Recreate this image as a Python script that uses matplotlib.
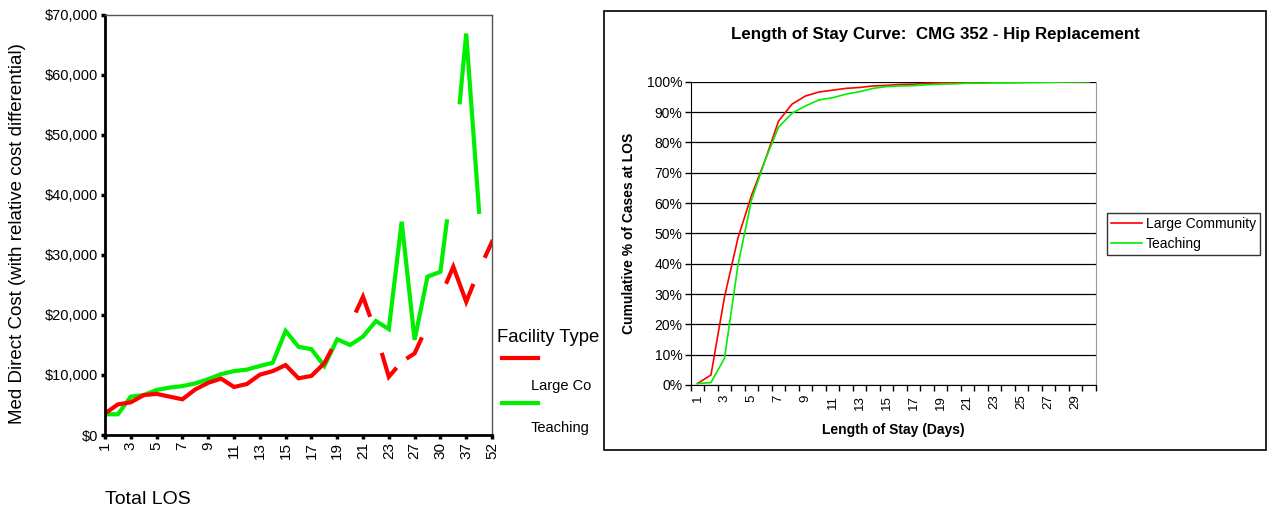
import matplotlib
matplotlib.use("Agg")
import matplotlib.pyplot as plt
import numpy as np
from matplotlib.lines import Line2D
from matplotlib.patches import Rectangle
from matplotlib.ticker import FuncFormatter, MultipleLocator

plt.rcParams['font.family'] = ['Liberation Sans', 'DejaVu Sans']

# ---- left chart: median direct cost by total LOS ----
los_cats = ['1', '2', '3', '4', '5', '6', '7', '8', '9', '10', '11', '12', '13', '14', '15',
            '16', '17', '18', '19', '20', '21', '22', '23', '25', '27', '28', '30', '33', '37',
            '44', '52']
large_cost = [3600, 5100, 5450, 6650, 6850, 6400, 5950, 7600, 8700, 9400, 8000, 8500, 10050,
              10650, 11650, 9450, 9850, 11950, 16000, 18400, 23050, 17000, 9700, 12200, 13600,
              18300, 23000, 28050, 22200, 27500, 32200]
large_shown = [True] * 18 + [False, False, True, False, True, False, True, False, False,
                             True, True, False, True]
teach_cost = [3450, 3450, 6400, 6650, 7500, 7900, 8150, 8600, 9300, 10150, 10650, 10900, 11500,
              12050, 17350, 14700, 14300, 11500, 15950, 15000, 16400, 19000, 17650, 35550, 15850,
              26400, 27200, 44000, 66900, 37200, np.nan]
teach_shown = [True] * 27 + [False, True, True, False]

# ---- right chart: cumulative % of cases by LOS (days) ----
days = list(range(1, 31))
large_cum = [0.5, 3.3, 29.0, 48.5, 62.5, 74.0, 87.0, 92.6, 95.3, 96.6, 97.2, 97.8, 98.1, 98.6,
             98.8, 99.1, 99.2, 99.5, 99.6, 99.7, 99.7, 99.8, 99.8, 99.8, 99.8, 99.9, 99.9,
             99.9, 100.0, 100.0]
teach_cum = [0.5, 0.8, 8.8, 39.5, 61.0, 74.0, 85.0, 89.6, 92.0, 94.0, 94.7, 95.9, 96.7, 97.8,
             98.4, 98.6, 98.7, 99.0, 99.2, 99.3, 99.5, 99.5, 99.6, 99.6, 99.7, 99.7, 99.8,
             99.9, 99.9, 100.0]


def gapped(vals, shown):
    # SPSS style: hidden categories keep half segments from visible neighbours
    xs, ys = [], []
    for i, v in enumerate(vals):
        if not shown[i]:
            xs.append(np.nan)
            ys.append(np.nan)
            continue
        if i > 0 and not shown[i - 1] and not np.isnan(vals[i - 1]):
            xs.append(i - 0.5)
            ys.append((v + vals[i - 1]) / 2)
        xs.append(i)
        ys.append(v)
        if i < len(vals) - 1 and not shown[i + 1] and not np.isnan(vals[i + 1]):
            xs.append(i + 0.5)
            ys.append((v + vals[i + 1]) / 2)
    return xs, ys


W, H = 1268, 512
fig = plt.figure(figsize=(W / 100, H / 100), dpi=100)

# left
ax1 = fig.add_axes([105 / W, 77 / H, 387 / W, 420 / H])
xs, ys = gapped(teach_cost, teach_shown)
ax1.plot(xs, ys, color='#00ee00', lw=3.0, solid_joinstyle='miter')
xs, ys = gapped(large_cost, large_shown)
ax1.plot(xs, ys, color='#ff0000', lw=3.0, solid_joinstyle='miter')
ax1.set_xlim(0, len(los_cats) - 1)
ax1.set_ylim(0, 70000)
ax1.set_yticks(np.arange(0, 70001, 10000))
ax1.yaxis.set_major_formatter(FuncFormatter(lambda v, p: '${:,.0f}'.format(v)))
ticks = list(range(0, len(los_cats), 2))
ax1.set_xticks(ticks)
ax1.set_xticklabels([los_cats[i] for i in ticks], rotation=90, fontsize=11)
ax1.tick_params(axis='y', labelsize=10.5, length=3, width=2.5, direction='out', pad=2)
ax1.tick_params(axis='x', length=3, width=2.5, direction='out', pad=2)
for s in ['left', 'bottom']:
    ax1.spines[s].set_linewidth(2)
    ax1.spines[s].set_color('black')
for s in ['top', 'right']:
    ax1.spines[s].set_linewidth(1)
    ax1.spines[s].set_color('#555555')
fig.text(18 / W, 1 - 234 / H, 'Med Direct Cost (with relative cost differential)',
         rotation=90, ha='center', va='center', fontsize=13.5)
fig.text(148 / W, 1 - 500 / H, 'Total LOS', ha='center', va='center', fontsize=14)

# left legend (SPSS layout)
fig.text(497 / W, 1 - 337 / H, 'Facility Type', ha='left', va='center', fontsize=13.3)
fig.add_artist(Line2D([502 / W, 538 / W], [1 - 358 / H, 1 - 358 / H], color='#ff0000', lw=3))
fig.text(531 / W, 1 - 386 / H, 'Large Co', ha='left', va='center', fontsize=10.5)
fig.add_artist(Line2D([502 / W, 538 / W], [1 - 403 / H, 1 - 403 / H], color='#00ee00', lw=3))
fig.text(531 / W, 1 - 428 / H, 'Teaching', ha='left', va='center', fontsize=10.5)

# right chart frame
fig.patches.append(Rectangle((604 / W, 1 - 450 / H), 662 / W, 439 / H, transform=fig.transFigure,
                             fill=True, facecolor='white', edgecolor='black', lw=1.2, zorder=0))

ax2 = fig.add_axes([690.7 / W, 127 / H, 405.3 / W, 303.3 / H])
ax2.set_zorder(2)
ax2.plot(days, np.array(large_cum) / 100, color='#ff0000', lw=1.2, label='Large Community')
ax2.plot(days, np.array(teach_cum) / 100, color='#00ee00', lw=1.2, label='Teaching')
ax2.set_xlim(0.5, 30.5)
ax2.set_ylim(0, 1)
ax2.yaxis.set_major_locator(MultipleLocator(0.1))
ax2.yaxis.set_major_formatter(FuncFormatter(lambda v, p: '{:.0f}%'.format(v * 100)))
ax2.grid(axis='y', color='black', lw=0.9)
ax2.set_axisbelow(True)
ax2.set_xticks(days[::2])
ax2.set_xticklabels([str(d) for d in days[::2]], rotation=90, fontsize=9.5)
ax2.set_xticks(np.arange(0.5, 31, 1), minor=True)
ax2.tick_params(axis='x', which='major', length=0, pad=7)
ax2.tick_params(axis='x', which='minor', length=4, width=1, direction='out')
ax2.tick_params(axis='y', labelsize=10, length=4, width=1, direction='out', pad=2)
ax2.spines['top'].set_visible(False)
ax2.spines['right'].set_color('#999999')
ax2.spines['left'].set_color('black')
ax2.spines['bottom'].set_color('black')
ax2.set_xlabel('Length of Stay (Days)', fontsize=10, fontweight='bold', labelpad=10)
ax2.set_ylabel('Cumulative % of Cases at LOS', fontsize=10, fontweight='bold', labelpad=8)
fig.text(935 / W, 1 - 35 / H, 'Length of Stay Curve:  CMG 352 - Hip Replacement',
         ha='center', va='center', fontsize=12.2, fontweight='bold')
leg = fig.legend(loc='center left', bbox_to_anchor=(1107 / W, 1 - 234 / H), fontsize=10,
                 frameon=True, fancybox=False, edgecolor='black', handlelength=2.2,
                 borderpad=0.3, labelspacing=0.4, handletextpad=0.3, borderaxespad=0)
leg.get_frame().set_linewidth(1)

plt.savefig('out.png', dpi=100)
